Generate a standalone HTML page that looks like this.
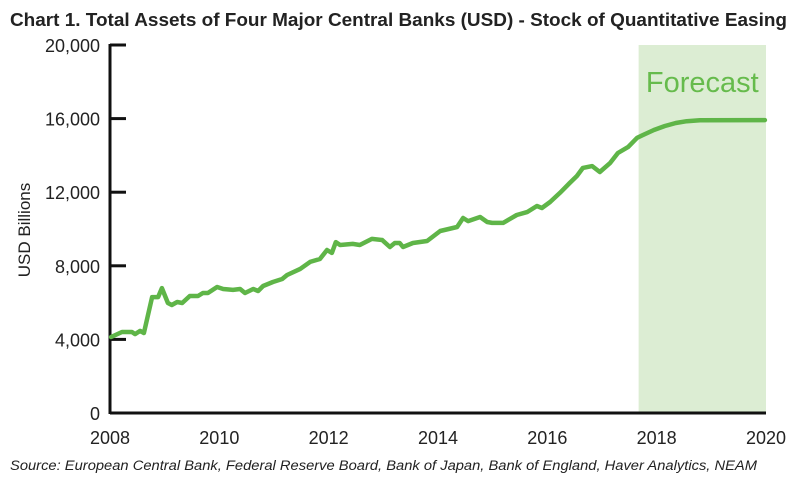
<!DOCTYPE html>
<html><head><meta charset="utf-8"><style>
body{margin:0;background:#fff;width:803px;height:478px;overflow:hidden;font-family:"Liberation Sans",sans-serif}
</style></head><body>
<svg id="chart" width="803" height="478" viewBox="0 0 803 478" xmlns="http://www.w3.org/2000/svg">
<text x="10" y="26" font-size="18" font-weight="bold" fill="#222" textLength="777" lengthAdjust="spacingAndGlyphs">Chart 1. Total Assets of Four Major Central Banks (USD) - Stock of Quantitative Easing</text>
<rect id="band" fill="#dcedd3"/>
<text id="fc" font-size="29" fill="#66bb4c" text-anchor="middle">Forecast</text>
<g id="axes"></g>
<path id="line" fill="none" stroke="#5fb548" stroke-width="4.5" stroke-linejoin="round" stroke-linecap="round"/>
<text transform="translate(30,230) rotate(-90)" font-size="17" fill="#222" text-anchor="middle">USD Billions</text>
<text x="10" y="470" font-size="13.5" font-style="italic" fill="#222" textLength="747" lengthAdjust="spacingAndGlyphs">Source: European Central Bank, Federal Reserve Board, Bank of Japan, Bank of England, Haver Analytics, NEAM</text>
</svg>
<script>
const years=[2008.02,2008.22,2008.40,2008.46,2008.55,2008.62,2008.77,2008.88,2008.95,2009.06,2009.13,2009.23,2009.32,2009.46,2009.61,2009.70,2009.79,2009.96,2010.07,2010.25,2010.38,2010.47,2010.62,2010.71,2010.80,2010.98,2011.15,2011.24,2011.48,2011.66,2011.84,2011.97,2012.06,2012.13,2012.21,2012.44,2012.57,2012.79,2012.98,2013.12,2013.21,2013.30,2013.36,2013.54,2013.80,2014.04,2014.35,2014.46,2014.55,2014.77,2014.90,2014.99,2015.19,2015.44,2015.63,2015.81,2015.90,2016.05,2016.23,2016.41,2016.54,2016.65,2016.82,2016.96,2017.15,2017.29,2017.48,2017.64,2017.75,2017.95,2018.15,2018.35,2018.55,2018.79,2019.98];
const values=[4130,4400,4400,4290,4460,4350,6300,6300,6790,5980,5870,6030,5980,6360,6360,6520,6520,6850,6740,6690,6740,6520,6740,6630,6900,7120,7280,7500,7830,8210,8370,8860,8700,9290,9130,9190,9130,9460,9400,9020,9240,9240,9020,9240,9350,9890,10110,10600,10430,10650,10380,10330,10330,10760,10920,11250,11140,11470,11960,12500,12880,13320,13420,13100,13590,14130,14460,14950,15110,15380,15600,15760,15860,15910,15920];
const yTicks=[0,4000,8000,12000,16000,20000];
const xTicks=[2008,2010,2012,2014,2016,2018,2020];
const forecastStart=2017.67, forecastEnd=2020;
const X0=110,X1=766,Y0=413,Y1=45;
const x=v=>X0+(v-2008)/12*(X1-X0);
const y=v=>Y0-v/20000*(Y0-Y1);
const NS="http://www.w3.org/2000/svg";
const band=document.getElementById('band');
band.setAttribute('x',x(forecastStart));band.setAttribute('y',Y1);
band.setAttribute('width',x(forecastEnd)-x(forecastStart));band.setAttribute('height',Y0-Y1);
const fc=document.getElementById('fc');
fc.setAttribute('x',(x(forecastStart)+x(forecastEnd))/2);fc.setAttribute('y',92);
const axes=document.getElementById('axes');
function el(t,a){const e=document.createElementNS(NS,t);for(const k in a)e.setAttribute(k,a[k]);axes.appendChild(e);return e;}
const ya=el('line',{x1:X0,y1:Y1-1,x2:X0,y2:Y0+1,stroke:'#111','stroke-width':3});


const xa=el('line',{x1:X0,y1:Y0,x2:X1,y2:Y0,stroke:'#111','stroke-width':3});


yTicks.forEach(t=>{
 const tk=el('line',{x1:X0,y1:y(t),x2:X0+16,y2:y(t),stroke:'#111','stroke-width':3});
 
 
 const lb=el('text',{x:X0-10,y:y(t)+7,'font-size':18,fill:'#222','text-anchor':'end'});
 lb.textContent=t.toLocaleString('en-US');
 
 
});
xTicks.forEach(t=>{
 const lb=el('text',{x:x(t),y:Y0+31,'font-size':18,fill:'#222','text-anchor':'middle'});
 lb.textContent=t;
 
 
});
document.getElementById('line').setAttribute('d',years.map((yr,i)=>(i?'L':'M')+x(yr).toFixed(1)+','+y(values[i]).toFixed(1)).join(''));
</script>
</body></html>
